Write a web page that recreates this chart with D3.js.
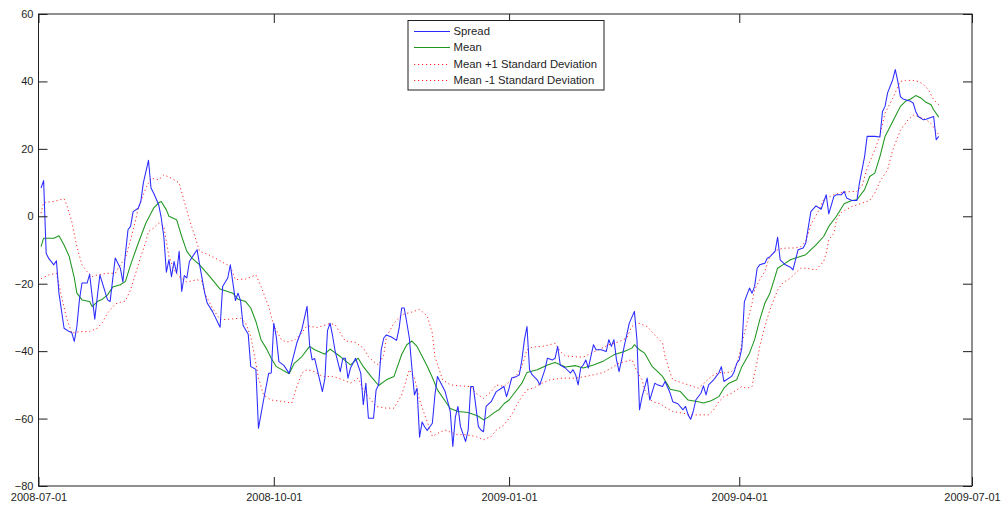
<!DOCTYPE html>
<html>
<head>
<meta charset="utf-8">
<script src="https://cdn.jsdelivr.net/npm/d3@7"></script>
<style>
  html, body { margin: 0; padding: 0; background: #fff; }
  svg { display: block; font-family: "Liberation Sans", Arial, Helvetica, sans-serif; }
</style>
</head>
<body>
<svg id="chart" width="1001" height="505"></svg>
<script>
// Spread and its rolling band, [date, value]
const spread = [
["2008-07-02",8.4],["2008-07-03",10.6],["2008-07-04",-11],["2008-07-05",-12.5],["2008-07-07",-14.4],["2008-07-08",-13.2],["2008-07-09",-22.8],["2008-07-11",-33.2],["2008-07-13",-34.2],["2008-07-14",-34.5],["2008-07-15",-37.1],["2008-07-16",-32.7],["2008-07-17",-24.8],["2008-07-18",-19.8],["2008-07-20",-19.8],["2008-07-21",-17.2],["2008-07-23",-30.5],["2008-07-24",-23.8],["2008-07-25",-17.4],["2008-07-28",-24.8],["2008-07-29",-25.3],["2008-07-30",-18.8],["2008-07-31",-12.4],["2008-08-02",-15.4],["2008-08-03",-19.5],["2008-08-04",-11],["2008-08-05",-4],["2008-08-06",-3],["2008-08-07",1.4],["2008-08-09",2.4],["2008-08-10",4.4],["2008-08-11",9.9],["2008-08-13",16.6],["2008-08-14",8.4],["2008-08-15",6.9],["2008-08-17",3.4],["2008-08-18",-0.5],["2008-08-19",-6],["2008-08-20",-16.6],["2008-08-21",-12.9],["2008-08-22",-17.9],["2008-08-23",-13.4],["2008-08-24",-16.9],["2008-08-25",-10.4],["2008-08-26",-22.3],["2008-08-27",-17.6],["2008-08-28",-18.3],["2008-08-29",-13.4],["2008-09-01",-9.9],["2008-09-02",-14.4],["2008-09-04",-22.8],["2008-09-05",-25.8],["2008-09-07",-28.2],["2008-09-10",-32.9],["2008-09-11",-20.8],["2008-09-13",-18.3],["2008-09-14",-14.4],["2008-09-16",-25],["2008-09-17",-22.8],["2008-09-18",-25],["2008-09-19",-32.4],["2008-09-21",-35],["2008-09-22",-44.6],["2008-09-24",-45.4],["2008-09-25",-62.9],["2008-09-27",-54.5],["2008-09-29",-46.6],["2008-09-30",-46.5],["2008-10-01",-31.7],["2008-10-02",-35.9],["2008-10-03",-43.1],["2008-10-05",-44.3],["2008-10-07",-46.6],["2008-10-10",-37.6],["2008-10-12",-33.5],["2008-10-14",-26.7],["2008-10-15",-38.1],["2008-10-16",-42.6],["2008-10-17",-42.2],["2008-10-20",-52],["2008-10-21",-48],["2008-10-22",-33.9],["2008-10-23",-31.7],["2008-10-24",-35.5],["2008-10-25",-40.1],["2008-10-27",-46.1],["2008-10-28",-42.1],["2008-10-29",-42.1],["2008-10-30",-48],["2008-10-31",-45],["2008-11-02",-42.1],["2008-11-04",-46.5],["2008-11-05",-55.9],["2008-11-06",-49.5],["2008-11-07",-59.9],["2008-11-09",-59.9],["2008-11-10",-51.5],["2008-11-11",-50],["2008-11-12",-39.6],["2008-11-13",-36.1],["2008-11-14",-35.2],["2008-11-16",-35.8],["2008-11-18",-36.8],["2008-11-19",-33.2],["2008-11-20",-27.2],["2008-11-21",-27.2],["2008-11-22",-31.5],["2008-11-23",-36.1],["2008-11-24",-45],["2008-11-25",-53],["2008-11-26",-51],["2008-11-27",-65.5],["2008-11-28",-61],["2008-11-29",-62.5],["2008-11-30",-63.5],["2008-12-02",-61.4],["2008-12-03",-53],["2008-12-04",-47.5],["2008-12-07",-52],["2008-12-09",-57.9],["2008-12-10",-68.3],["2008-12-11",-59.5],["2008-12-12",-56.4],["2008-12-13",-62.4],["2008-12-15",-66.8],["2008-12-16",-63.4],["2008-12-17",-50.5],["2008-12-18",-50.5],["2008-12-19",-56.4],["2008-12-20",-62.4],["2008-12-21",-63.4],["2008-12-22",-63.9],["2008-12-23",-56.4],["2008-12-25",-55],["2008-12-27",-52],["2008-12-30",-50.5],["2008-12-31",-53.5],["2009-01-01",-51],["2009-01-02",-48],["2009-01-04",-47.5],["2009-01-05",-47],["2009-01-06",-42.6],["2009-01-07",-36.6],["2009-01-08",-32.7],["2009-01-09",-45.5],["2009-01-10",-47],["2009-01-12",-48.5],["2009-01-13",-50],["2009-01-15",-45.5],["2009-01-16",-42.1],["2009-01-18",-42.6],["2009-01-19",-42.1],["2009-01-20",-38.6],["2009-01-21",-44.1],["2009-01-23",-45],["2009-01-25",-46.5],["2009-01-26",-45.5],["2009-01-27",-47],["2009-01-28",-50],["2009-01-29",-45],["2009-01-30",-44.1],["2009-01-31",-42.6],["2009-02-01",-45],["2009-02-03",-38.1],["2009-02-04",-39.6],["2009-02-06",-39.6],["2009-02-08",-40.1],["2009-02-09",-36.6],["2009-02-10",-38.6],["2009-02-11",-36.6],["2009-02-12",-42.6],["2009-02-13",-46.1],["2009-02-14",-42.6],["2009-02-15",-38.6],["2009-02-16",-35.2],["2009-02-17",-31.7],["2009-02-19",-28.2],["2009-02-20",-36.6],["2009-02-21",-57.4],["2009-02-22",-53.5],["2009-02-24",-48],["2009-02-25",-54.5],["2009-02-27",-49.5],["2009-02-28",-50],["2009-03-02",-50.5],["2009-03-03",-49],["2009-03-05",-52.5],["2009-03-06",-55],["2009-03-08",-55.6],["2009-03-10",-57.4],["2009-03-11",-56.4],["2009-03-12",-58.9],["2009-03-13",-60.2],["2009-03-14",-57.9],["2009-03-15",-54.5],["2009-03-17",-52.5],["2009-03-18",-50.3],["2009-03-19",-53],["2009-03-20",-50],["2009-03-22",-48.5],["2009-03-23",-47.5],["2009-03-24",-46.5],["2009-03-25",-44.6],["2009-03-26",-49],["2009-03-27",-48.5],["2009-03-29",-47.5],["2009-03-30",-46.1],["2009-03-31",-43.6],["2009-04-01",-42.6],["2009-04-02",-39.1],["2009-04-03",-25.3],["2009-04-04",-23.3],["2009-04-05",-21.3],["2009-04-06",-22.8],["2009-04-07",-20.8],["2009-04-08",-15.4],["2009-04-09",-14.4],["2009-04-11",-13.9],["2009-04-12",-12.4],["2009-04-13",-12],["2009-04-15",-10.4],["2009-04-16",-6.2],["2009-04-17",-12.9],["2009-04-19",-14.4],["2009-04-21",-15.1],["2009-04-22",-15.9],["2009-04-24",-9.9],["2009-04-26",-9.4],["2009-04-27",-7.9],["2009-04-29",1.4],["2009-05-01",3.1],["2009-05-03",2.1],["2009-05-05",6.4],["2009-05-06",0.7],["2009-05-08",5.9],["2009-05-09",6.4],["2009-05-11",6.4],["2009-05-12",7.4],["2009-05-13",5.4],["2009-05-15",4.7],["2009-05-17",4.7],["2009-05-18",9.9],["2009-05-20",17.7],["2009-05-21",23.7],["2009-05-24",23.7],["2009-05-26",23.5],["2009-05-27",31.1],["2009-05-28",32.6],["2009-05-29",36.6],["2009-05-31",40.5],["2009-06-01",43.5],["2009-06-02",40],["2009-06-03",35.5],["2009-06-04",34.8],["2009-06-07",34.1],["2009-06-08",33.6],["2009-06-09",31.1],["2009-06-10",29.6],["2009-06-12",28.6],["2009-06-13",28.8],["2009-06-16",29.6],["2009-06-17",22.7],["2009-06-18",23.7]
];

const mean = [
["2008-07-02",-9],["2008-07-03",-6.5],["2008-07-07",-6.5],["2008-07-09",-5.8],["2008-07-11",-8.5],["2008-07-13",-11.9],["2008-07-15",-18.3],["2008-07-16",-22.8],["2008-07-18",-24.8],["2008-07-21",-25.3],["2008-07-22",-26.8],["2008-07-24",-25.3],["2008-07-26",-24.6],["2008-07-28",-23.3],["2008-07-30",-21],["2008-08-02",-20.3],["2008-08-04",-19.3],["2008-08-06",-14.4],["2008-08-09",-8],["2008-08-12",-2],["2008-08-15",2.4],["2008-08-17",4],["2008-08-18",4.4],["2008-08-20",1.9],["2008-08-21",0],["2008-08-24",-1],["2008-08-26",-6],["2008-08-28",-10.4],["2008-08-30",-12.4],["2008-09-02",-14.4],["2008-09-06",-17.9],["2008-09-10",-21.6],["2008-09-15",-22.8],["2008-09-17",-24.6],["2008-09-20",-25.3],["2008-09-22",-27.2],["2008-09-24",-31.2],["2008-09-26",-36.6],["2008-09-28",-39.1],["2008-09-30",-42.1],["2008-10-02",-44.6],["2008-10-07",-46.7],["2008-10-09",-43.6],["2008-10-12",-41.6],["2008-10-15",-38.6],["2008-10-17",-39.6],["2008-10-21",-40.9],["2008-10-23",-39.4],["2008-10-27",-41.6],["2008-10-31",-44.1],["2008-11-03",-42.1],["2008-11-05",-44.6],["2008-11-08",-47.5],["2008-11-11",-50.2],["2008-11-14",-48.5],["2008-11-17",-47.5],["2008-11-20",-41],["2008-11-22",-38.1],["2008-11-24",-37],["2008-11-26",-38.6],["2008-11-28",-41.5],["2008-11-30",-44.5],["2008-12-02",-47.8],["2008-12-04",-51.5],["2008-12-07",-54.8],["2008-12-09",-57],["2008-12-12",-57.9],["2008-12-16",-58.2],["2008-12-20",-59.3],["2008-12-22",-60.4],["2008-12-24",-59.5],["2008-12-26",-58.3],["2008-12-28",-57.4],["2008-12-30",-55.6],["2009-01-01",-54.5],["2009-01-03",-52.5],["2009-01-06",-49.5],["2009-01-08",-46.3],["2009-01-12",-45.5],["2009-01-16",-44.1],["2009-01-19",-43.4],["2009-01-23",-44.7],["2009-01-27",-44.3],["2009-01-30",-45],["2009-02-03",-44.1],["2009-02-07",-42.9],["2009-02-11",-41.1],["2009-02-15",-40.1],["2009-02-18",-39.1],["2009-02-19",-38.1],["2009-02-21",-39.6],["2009-02-23",-40.6],["2009-02-26",-44.6],["2009-02-28",-46],["2009-03-02",-47.5],["2009-03-04",-50],["2009-03-05",-51.3],["2009-03-09",-52],["2009-03-12",-54.5],["2009-03-16",-55],["2009-03-18",-55.4],["2009-03-21",-54.7],["2009-03-24",-53.5],["2009-03-26",-51],["2009-03-28",-49.5],["2009-03-31",-48.5],["2009-04-02",-44.6],["2009-04-05",-40.6],["2009-04-07",-36.6],["2009-04-09",-30.7],["2009-04-11",-25.8],["2009-04-13",-22.8],["2009-04-15",-17.9],["2009-04-16",-15.4],["2009-04-18",-14.4],["2009-04-21",-12.9],["2009-04-23",-12.4],["2009-04-27",-11.4],["2009-05-01",-8.5],["2009-05-04",-6],["2009-05-06",-3],["2009-05-09",0],["2009-05-12",3.7],["2009-05-15",4.7],["2009-05-17",4.9],["2009-05-20",7.9],["2009-05-22",11.8],["2009-05-24",12.8],["2009-05-26",17.7],["2009-05-28",23.7],["2009-05-30",26.6],["2009-06-01",29.6],["2009-06-03",32.6],["2009-06-05",34.1],["2009-06-07",34.8],["2009-06-09",35.8],["2009-06-11",35.1],["2009-06-13",33.8],["2009-06-15",33.1],["2009-06-16",31.6],["2009-06-18",29.4]
];

const upperBand = [
["2008-07-02",0.9],["2008-07-03",4.1],["2008-07-07",4.4],["2008-07-11",5.2],["2008-07-12",3.4],["2008-07-14",-1.5],["2008-07-16",-9],["2008-07-18",-14.4],["2008-07-20",-16.4],["2008-07-22",-17.9],["2008-07-24",-17.4],["2008-07-28",-16.9],["2008-07-31",-16.9],["2008-08-02",-14.4],["2008-08-04",-12.4],["2008-08-06",-7],["2008-08-08",-1],["2008-08-09",2.4],["2008-08-12",8.4],["2008-08-14",11.3],["2008-08-17",10.8],["2008-08-19",12.3],["2008-08-22",11.3],["2008-08-25",9.9],["2008-08-27",4.4],["2008-08-29",-1],["2008-09-01",-8],["2008-09-02",-10.4],["2008-09-05",-11.2],["2008-09-09",-12.8],["2008-09-14",-14.9],["2008-09-16",-18.8],["2008-09-20",-18.6],["2008-09-24",-17.4],["2008-09-26",-20.8],["2008-09-29",-26.8],["2008-10-01",-32.5],["2008-10-04",-36.6],["2008-10-06",-37.3],["2008-10-09",-36.8],["2008-10-12",-34.5],["2008-10-14",-32.5],["2008-10-18",-33],["2008-10-23",-31.8],["2008-10-25",-32.2],["2008-10-29",-37],["2008-11-02",-37.4],["2008-11-05",-39.1],["2008-11-07",-41.6],["2008-11-09",-43.1],["2008-11-11",-44.1],["2008-11-13",-41.1],["2008-11-14",-35.7],["2008-11-17",-31.7],["2008-11-20",-29.2],["2008-11-24",-28.4],["2008-11-27",-27.6],["2008-11-30",-29.6],["2008-12-02",-34.7],["2008-12-03",-41.6],["2008-12-06",-48.5],["2008-12-09",-50],["2008-12-13",-50.3],["2008-12-17",-50.5],["2008-12-19",-52.5],["2008-12-22",-54],["2008-12-25",-52],["2008-12-27",-50],["2008-12-30",-50.5],["2009-01-02",-48.5],["2009-01-04",-47],["2009-01-06",-44.6],["2009-01-08",-39.6],["2009-01-10",-38.8],["2009-01-14",-38.6],["2009-01-17",-38.1],["2009-01-19",-37.6],["2009-01-21",-40.1],["2009-01-23",-41.4],["2009-01-26",-41.6],["2009-01-30",-41.8],["2009-02-02",-40.6],["2009-02-05",-39.6],["2009-02-09",-38.1],["2009-02-13",-37.2],["2009-02-16",-36.1],["2009-02-18",-32.7],["2009-02-20",-31.5],["2009-02-24",-32.7],["2009-02-27",-35.2],["2009-03-02",-37.6],["2009-03-03",-41.6],["2009-03-05",-46.5],["2009-03-06",-48.5],["2009-03-10",-49.5],["2009-03-14",-50.5],["2009-03-16",-51],["2009-03-19",-49],["2009-03-21",-47.5],["2009-03-24",-46.3],["2009-03-26",-46.5],["2009-03-29",-46.1],["2009-03-31",-44.1],["2009-04-01",-41.1],["2009-04-02",-37.6],["2009-04-04",-31.7],["2009-04-06",-25.8],["2009-04-07",-21.8],["2009-04-09",-18.8],["2009-04-11",-16.4],["2009-04-12",-13.9],["2009-04-13",-11.9],["2009-04-15",-10.2],["2009-04-18",-9.5],["2009-04-21",-9.4],["2009-04-23",-9.4],["2009-04-25",-9],["2009-04-27",-7.5],["2009-04-29",-2.5],["2009-05-02",1.6],["2009-05-04",5],["2009-05-08",6.4],["2009-05-12",7.2],["2009-05-17",7.4],["2009-05-19",9],["2009-05-21",14.3],["2009-05-24",19.7],["2009-05-26",24],["2009-05-28",30.6],["2009-05-31",35],["2009-06-03",40],["2009-06-05",40.3],["2009-06-08",40.3],["2009-06-10",40],["2009-06-12",39.2],["2009-06-14",37.5],["2009-06-16",34.6],["2009-06-18",33.1]
];

const lowerBand = [
["2008-07-02",-18.5],["2008-07-05",-17.4],["2008-07-08",-16.9],["2008-07-10",-23.8],["2008-07-12",-30.2],["2008-07-14",-34.7],["2008-07-17",-34.2],["2008-07-21",-34.2],["2008-07-24",-33.2],["2008-07-26",-31.5],["2008-07-28",-28.7],["2008-07-31",-26],["2008-08-02",-25.5],["2008-08-04",-25.1],["2008-08-06",-21.8],["2008-08-08",-16.9],["2008-08-10",-11.9],["2008-08-12",-7.5],["2008-08-13",-4.5],["2008-08-15",-3.5],["2008-08-17",-2],["2008-08-19",-3],["2008-08-20",-7.5],["2008-08-21",-11.9],["2008-08-23",-15.9],["2008-08-25",-17.9],["2008-08-28",-19.5],["2008-09-01",-18.8],["2008-09-03",-19.3],["2008-09-04",-22.8],["2008-09-07",-27.2],["2008-09-10",-30.7],["2008-09-14",-30.5],["2008-09-18",-30.2],["2008-09-20",-31.7],["2008-09-22",-35.7],["2008-09-24",-43.6],["2008-09-25",-48],["2008-09-27",-53],["2008-09-30",-54.5],["2008-10-05",-55],["2008-10-08",-55.4],["2008-10-10",-50.5],["2008-10-12",-46.5],["2008-10-14",-45.5],["2008-10-17",-46.1],["2008-10-20",-47.5],["2008-10-24",-47.5],["2008-10-27",-48.2],["2008-10-31",-49.5],["2008-11-03",-48],["2008-11-05",-51.5],["2008-11-07",-53.5],["2008-11-10",-56.4],["2008-11-14",-56.9],["2008-11-17",-56.9],["2008-11-20",-53],["2008-11-22",-48],["2008-11-23",-45.5],["2008-11-25",-48],["2008-11-27",-54.5],["2008-11-29",-58.9],["2008-11-30",-61],["2008-12-02",-65.3],["2008-12-05",-64],["2008-12-07",-63.4],["2008-12-10",-64.3],["2008-12-12",-64.8],["2008-12-15",-64.8],["2008-12-19",-65.3],["2008-12-22",-66.3],["2008-12-25",-65.3],["2008-12-27",-63.4],["2008-12-30",-61.9],["2009-01-02",-58.9],["2009-01-04",-55.9],["2009-01-06",-53.5],["2009-01-08",-51.5],["2009-01-11",-50.8],["2009-01-13",-49.8],["2009-01-17",-48.5],["2009-01-22",-48],["2009-01-27",-48],["2009-02-02",-47.2],["2009-02-07",-46.3],["2009-02-10",-45],["2009-02-13",-43.6],["2009-02-16",-43],["2009-02-18",-42.5],["2009-02-20",-46],["2009-02-22",-48.5],["2009-02-23",-51.5],["2009-02-26",-55],["2009-03-01",-55.6],["2009-03-03",-56.6],["2009-03-06",-57.9],["2009-03-10",-58.4],["2009-03-13",-58.9],["2009-03-20",-58.9],["2009-03-22",-57.4],["2009-03-24",-55],["2009-03-26",-53.5],["2009-03-29",-52.5],["2009-04-02",-50.5],["2009-04-04",-51],["2009-04-06",-50.5],["2009-04-07",-46.5],["2009-04-08",-43.1],["2009-04-09",-38.6],["2009-04-11",-32.7],["2009-04-13",-27.7],["2009-04-15",-23.8],["2009-04-16",-21.8],["2009-04-18",-19.8],["2009-04-21",-18.3],["2009-04-25",-15.4],["2009-04-27",-15.4],["2009-05-01",-15.9],["2009-05-04",-13.4],["2009-05-05",-10.9],["2009-05-06",-7],["2009-05-08",-5],["2009-05-09",-1],["2009-05-11",1.2],["2009-05-15",2.9],["2009-05-19",3.9],["2009-05-22",4.7],["2009-05-24",6.9],["2009-05-26",10.3],["2009-05-29",13.8],["2009-05-31",19.7],["2009-06-03",25.5],["2009-06-06",28.6],["2009-06-08",30],["2009-06-10",29.6],["2009-06-13",28.7],["2009-06-15",27.5],["2009-06-17",25.2],["2009-06-18",24.2]
];

const xTickLabels = ["2008-07-01", "2008-10-01", "2009-01-01", "2009-04-01", "2009-07-01"];
const yTickValues = [-80, -60, -40, -20, 0, 20, 40, 60];
const seriesNames = ["Spread", "Mean", "Mean +1 Standard Deviation", "Mean -1 Standard Deviation"];

const parse = d3.utcParse("%Y-%m-%d");
const fmt = d3.utcFormat("%Y-%m-%d");
const svg = d3.select("#chart");

// axes frame in pixels
const frame = { left: 38.5, right: 972, top: 14, bottom: 486 };
const xTicks = xTickLabels.map(parse);

const x = d3.scaleUtc()
  .domain([xTicks[0], xTicks[xTicks.length - 1]])
  .range([frame.left, frame.right]);
const y = d3.scaleLinear()
  .domain([-80, 60])
  .range([frame.bottom, frame.top]);

const ink = "#1e1e1e";
const fontSize = "11px";

// plot lines
const line = d3.line()
  .x(d => x(parse(d[0])))
  .y(d => y(d[1]));

const plot = svg.append("g");
const styles = [
  { data: spread,    stroke: "#2b2bff", width: 1.05, dash: null },
  { data: mean,      stroke: "#1f961f", width: 1.05, dash: null },
  { data: upperBand, stroke: "#ff2a2a", width: 1,    dash: "1.2,2.8" },
  { data: lowerBand, stroke: "#ff2a2a", width: 1,    dash: "1.2,2.8" }
];
// bands first, then mean, then spread on top
[2, 3, 1, 0].forEach(i => {
  const s = styles[i];
  plot.append("path")
    .datum(s.data)
    .attr("fill", "none")
    .attr("stroke", s.stroke)
    .attr("stroke-width", s.width)
    .attr("stroke-dasharray", s.dash)
    .attr("stroke-linejoin", "round")
    .attr("d", line);
});

// axes with inward ticks on all four sides
function styleAxis(g, showText) {
  g.select(".domain").remove();
  g.selectAll(".tick line").attr("stroke", ink).attr("stroke-width", 1);
  g.selectAll(".tick text")
    .attr("fill", ink)
    .style("font-size", fontSize)
    .style("font-family", "'Liberation Sans', Arial, Helvetica, sans-serif");
  if (!showText) g.selectAll(".tick text").remove();
}

svg.append("g")
  .attr("transform", `translate(0,${frame.bottom})`)
  .call(d3.axisBottom(x).tickValues(xTicks).tickFormat(fmt).tickSizeInner(-9).tickSizeOuter(0).tickPadding(7))
  .call(g => styleAxis(g, true));

svg.append("g")
  .attr("transform", `translate(0,${frame.top})`)
  .call(d3.axisTop(x).tickValues(xTicks).tickSizeInner(-9).tickSizeOuter(0))
  .call(g => styleAxis(g, false));

svg.append("g")
  .attr("transform", `translate(${frame.left},0)`)
  .call(d3.axisLeft(y).tickValues(yTickValues).tickFormat(d3.format("d")).tickSizeInner(-9).tickSizeOuter(0).tickPadding(5))
  .call(g => styleAxis(g, true));

svg.append("g")
  .attr("transform", `translate(${frame.right},0)`)
  .call(d3.axisRight(y).tickValues(yTickValues).tickSizeInner(-9).tickSizeOuter(0))
  .call(g => styleAxis(g, false));

// axes box
svg.append("rect")
  .attr("x", frame.left).attr("y", frame.top)
  .attr("width", frame.right - frame.left).attr("height", frame.bottom - frame.top)
  .attr("fill", "none").attr("stroke", ink).attr("stroke-width", 1);

// legend
const legend = svg.append("g");
const lg = { x: 408, y: 20.5, w: 196, h: 69.5 };
legend.append("rect")
  .attr("x", lg.x).attr("y", lg.y).attr("width", lg.w).attr("height", lg.h)
  .attr("fill", "#fff").attr("stroke", ink).attr("stroke-width", 1);

const rowY = d3.scalePoint().domain(seriesNames).range([31, 80]);
seriesNames.forEach((name, i) => {
  const s = styles[i];
  const yy = Math.round(rowY(name)) + 0.5;
  legend.append("line")
    .attr("x1", 414).attr("x2", 450).attr("y1", yy).attr("y2", yy)
    .attr("stroke", s.stroke).attr("stroke-width", 1)
    .attr("stroke-dasharray", s.dash);
  legend.append("text")
    .attr("x", 453.5).attr("y", yy).attr("dy", "0.35em")
    .attr("fill", ink)
    .style("font-size", "11.3px")
    .text(name);
});
</script>
</body>
</html>
